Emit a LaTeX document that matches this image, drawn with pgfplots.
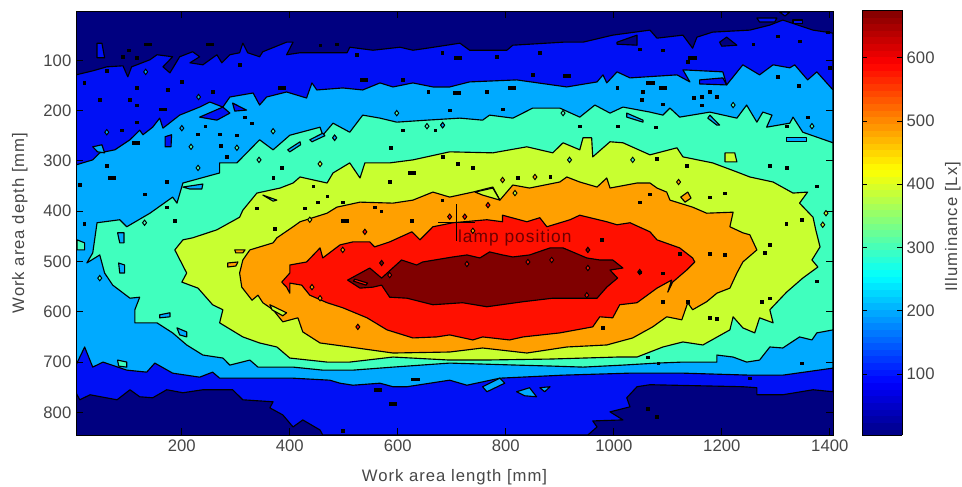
\documentclass[border=0pt]{standalone}
\usepackage{pgfplots}
\pgfplotsset{compat=1.18}
\usepackage{fontspec}
\setmainfont{Liberation Sans}
\definecolor{cnavy}{RGB}{0,0,128}
\definecolor{cblue}{RGB}{0,16,245}
\definecolor{csky}{RGB}{0,170,255}
\definecolor{cteal}{RGB}{64,255,190}
\definecolor{clime}{RGB}{200,255,48}
\definecolor{corange}{RGB}{255,160,0}
\definecolor{cred}{RGB}{255,16,0}
\definecolor{cdark}{RGB}{128,0,0}
\definecolor{txt}{RGB}{70,70,70}
\pgfplotsset{poly/.style={draw=black,line width=0.85pt,line join=round}}
\newcommand{\isl}[2]{\addplot[poly,fill=#1] coordinates {#2} -- cycle;}
\newcommand{\dia}[2]{\addplot[only marks,mark=diamond*,mark size=2pt,mark options={fill=#1,draw=black,line width=0.7pt}] coordinates {#2};}
\newfontfamily\lblfont[LetterSpace=6]{Liberation Sans}
\begin{document}
\begin{tikzpicture}
\useasboundingbox (0,0) rectangle (721.5pt,364.5pt);
\begin{axis}[
  at={(57pt,38.25pt)},anchor=south west,
  scale only axis,width=567.75pt,height=318pt,
  xmin=4,xmax=1406,ymin=2,ymax=845,y dir=reverse,
  xtick={200,400,...,1400},ytick={100,200,...,800},
  major tick length=5pt,tick style={black,line width=0.6pt},
  tick label style={font=\fontsize{12.5}{14}\selectfont,text=txt},
  /pgf/number format/assume math mode=true,
  /pgf/number format/1000 sep={},
  xlabel={Work area length [mm]},ylabel={Work area depth [mm]},
  label style={font=\lblfont\fontsize{12.5}{14}\selectfont,text=txt},
  xlabel style={yshift=-6.5pt},ylabel style={yshift=5pt},
  axis background/.style={fill=cnavy},
  axis on top,
  clip=true,
  colormap/jet,point meta min=3,point meta max=675,
  colorbar,colorbar sampled,
  colorbar style={samples=65,at={(1.0383,1.002)},anchor=north west,width=30pt,height=319pt,
    ytick={100,200,...,600},major tick length=4pt,
    ylabel={Illuminance [Lx]},
    /pgf/number format/assume math mode=true,
    tick label style={font=\fontsize{12.5}{14}\selectfont,text=txt},
    ylabel style={font=\lblfont\fontsize{12.5}{14}\selectfont,text=txt,xshift=-3pt,yshift=-1pt}},
]
% blue
\addplot[poly,fill=cblue] coordinates {(4,129)(35,121)(61,113)(91,111)(100,133)(107,113)(141,99)(154,89)(183,93)(165,113)(178,125)(196,93)(220,83)(233,93)(215,105)(239,109)(265,89)(274,105)(289,89)(307,85)(313,66)(322,85)(344,93)(350,83)(394,64)(406,64)(394,89)(419,85)(506,85)(511,74)(554,80)(604,74)(628,80)(654,76)(715,66)(733,80)(802,80)(813,70)(906,64)(943,64)(998,50)(1067,40)(1080,56)(1128,50)(1146,76)(1154,54)(1183,44)(1252,40)(1289,30)(1313,20)(1369,40)(1406,46)(1406,759)(1369,755)(1313,765)(1265,765)(1265,751)(1239,749)(1067,745)(1043,749)(1024,771)(1030,789)(993,799)(1017,815)(961,817)(969,829)(952,845)(461,845)(456,835)(424,815)(406,829)(387,805)(363,791)(369,779)(313,775)(294,755)(239,755)(202,761)(172,755)(146,771)(122,769)(104,755)(80,775)(30,765)(11,775)(4,761)} -- cycle;
\isl{cnavy}{(1006,64)(1043,50)(1043,70)(1006,68)}
\isl{cnavy}{(1196,64)(1209,54)(1228,70)(1200,72)}
\isl{cblue}{(43,66)(52,66)(57,95)(43,95)}
\isl{cblue}{(1265,16)(1302,16)(1298,24)(1270,24)}
\isl{cblue}{(1332,20)(1350,20)(1350,26)(1332,26)}
\isl{cblue}{(1307,4)(1326,4)(1317,12)}
% sky
\addplot[poly,fill=csky] coordinates {(4,308)(35,298)(48,284)(76,278)(104,258)(122,239)(128,248)(146,233)(159,215)(165,235)(196,209)(233,193)(252,183)(276,193)(289,173)(332,165)(344,189)(357,173)(394,163)(431,175)(441,145)(450,159)(498,155)(535,159)(567,145)(591,153)(628,145)(665,153)(696,153)(733,143)(820,139)(913,153)(969,143)(980,129)(987,145)(1006,123)(1030,135)(1117,129)(1141,143)(1128,119)(1202,123)(1209,149)(1239,109)(1270,129)(1295,109)(1326,115)(1335,109)(1359,139)(1376,123)(1406,159)(1406,712)(1313,726)(1252,726)(1128,722)(1030,722)(906,726)(789,732)(728,746)(696,736)(617,749)(591,749)(567,742)(517,746)(493,742)(474,736)(406,732)(270,732)(257,720)(233,730)(183,722)(150,702)(135,720)(98,716)(54,700)(35,710)(20,670)(4,706)} -- cycle;
\isl{cblue}{(233,213)(276,193)(289,205)(265,219)}
\isl{cblue}{(294,185)(320,199)(298,201)}
\isl{cblue}{(169,252)(181,248)(180,272)(169,272)}
\isl{cblue}{(1159,139)(1202,135)(1209,149)(1159,147)}
\isl{csky}{(757,749)(789,732)(798,742)(765,759)}
\isl{csky}{(820,759)(844,751)(857,769)(835,767)}
\isl{csky}{(863,751)(882,749)(872,759)}
\isl{csky}{(35,272)(52,268)(57,284)(44,282)}
\dia{csky}{(231,173)(61,243)(200,235)(133,123)}
% teal
\addplot[poly,fill=cteal] coordinates {(24,503)(35,483)(43,423)(85,417)(98,431)(141,404)(183,372)(191,384)(202,344)(270,324)(270,304)(302,304)(344,258)(369,278)(400,249)(456,233)(461,249)(480,225)(511,243)(535,209)(567,215)(598,223)(654,219)(715,215)(757,219)(770,209)(813,215)(850,195)(900,195)(937,213)(965,189)(993,205)(1017,193)(1067,203)(1091,209)(1104,195)(1122,213)(1178,203)(1228,215)(1246,189)(1265,223)(1276,203)(1293,209)(1283,233)(1326,225)(1332,213)(1350,243)(1406,264)(1406,636)(1376,642)(1367,656)(1344,650)(1313,672)(1289,670)(1270,696)(1246,700)(1221,690)(1191,686)(1191,700)(1128,700)(1080,702)(1017,706)(943,710)(887,708)(820,706)(696,702)(591,710)(517,716)(461,716)(406,710)(341,710)(326,696)(289,706)(276,692)(239,686)(209,666)(183,642)(154,622)(113,622)(113,596)(122,571)(104,573)(72,547)(57,523)(48,487)} -- cycle;
\isl{csky}{(396,278)(419,262)(420,268)(400,282)}
\isl{csky}{(437,258)(461,245)(465,250)(441,262)}
\isl{csky}{(202,352)(239,346)(237,356)(215,356)}
\isl{csky}{(1320,254)(1357,254)(1357,262)(1320,262)}
\isl{csky}{(1024,205)(1054,219)(1054,223)(1024,213)}
\isl{csky}{(1178,209)(1196,229)(1191,229)(1174,215)}
\isl{csky}{(81,443)(93,443)(93,463)(85,463)}
\isl{csky}{(83,503)(94,507)(94,523)(85,523)}
\isl{csky}{(159,606)(178,602)(178,610)(159,612)}
\isl{csky}{(191,632)(209,640)(209,650)(196,646)}
\isl{cteal}{(81,696)(98,700)(98,710)(83,708)}
\isl{cteal}{(6,457)(20,463)(20,477)(6,477)}
\dia{cteal}{(369,241)(343,298)(302,274)(230,314)(217,272)(131,423)(483,254)(598,205)(654,231)(683,229)(48,533)(1221,189)(906,205)(1367,231)}
\dia{csky}{(483,254)(683,229)}
% lime
\addplot[poly,fill=clime] coordinates {(187,477)(202,457)(220,453)(265,437)(307,412)(313,398)(339,364)(382,354)(406,344)(419,332)(469,344)(480,324)(511,304)(530,334)(539,304)(585,304)(628,298)(696,282)(776,284)(839,272)(887,284)(906,264)(937,278)(943,254)(959,254)(961,292)(993,262)(1017,264)(1067,288)(1117,274)(1128,292)(1183,304)(1228,322)(1252,332)(1295,342)(1332,364)(1359,362)(1344,384)(1369,412)(1374,437)(1382,471)(1367,497)(1378,511)(1350,533)(1320,561)(1289,596)(1295,622)(1270,612)(1261,642)(1239,632)(1221,610)(1215,636)(1165,666)(1128,660)(1091,670)(1043,690)(1006,690)(882,694)(757,696)(696,696)(591,690)(511,700)(469,700)(400,692)(376,670)(344,662)(313,650)(270,622)(276,596)(257,586)(230,553)(200,541)(209,523)} -- cycle;
\isl{clime}{(1206,284)(1224,284)(1228,302)(1206,302)}
\isl{cteal}{(350,368)(376,378)(369,380)}
\dia{clime}{(456,306)(1387,427)(1393,404)}
\dia{cteal}{(1035,298)(918,298)}
% orange
\addplot[poly,fill=corange] coordinates {(307,523)(313,497)(326,477)(369,463)(376,453)(406,431)(419,421)(469,404)(487,392)(530,382)(591,384)(628,378)(665,362)(696,372)(739,362)(776,352)(789,378)(813,348)(844,354)(900,342)(913,332)(937,342)(969,352)(987,334)(993,354)(1043,344)(1067,344)(1080,354)(1098,362)(1104,378)(1146,392)(1172,404)(1221,402)(1215,431)(1239,443)(1252,447)(1265,477)(1239,501)(1228,523)(1215,553)(1191,563)(1172,580)(1146,596)(1137,582)(1126,616)(1098,610)(1072,630)(1035,652)(987,666)(913,670)(839,682)(757,672)(696,680)(591,682)(511,670)(456,662)(424,640)(415,612)(387,620)(369,596)(350,582)(341,567)(330,577)(311,551)} -- cycle;
\isl{corange}{(1124,372)(1137,362)(1143,374)(1132,382)}
\isl{corange}{(285,503)(304,501)(300,509)(285,511)}
\isl{corange}{(298,477)(317,477)(313,483)(300,483)}
\isl{clime}{(743,362)(776,354)(789,378)(757,368)}
\isl{clime}{(363,586)(394,602)(387,608)(367,596)}
\dia{clime}{(817,364)(437,417)}
\dia{corange}{(794,338)(854,332)(1120,342)}
% red
\addplot[poly,fill=cred] coordinates {(385,541)(400,523)(400,507)(431,501)(456,473)(461,493)(493,467)(517,461)(548,461)(557,471)(585,461)(626,441)(641,457)(665,431)(702,423)(765,417)(794,421)(794,408)(839,421)(863,413)(876,431)(919,417)(937,408)(987,421)(1006,427)(1030,423)(1067,441)(1080,457)(1122,473)(1146,493)(1150,501)(1135,517)(1109,541)(1100,561)(1107,537)(1080,553)(1043,582)(1011,586)(998,612)(974,610)(961,630)(900,642)(832,650)(807,656)(757,650)(739,656)(696,646)(672,650)(628,652)(580,636)(543,612)(498,592)(469,582)(437,567)(422,547)(400,543)(400,563)(394,551)} -- cycle;
\dia{cred}{(696,411)(724,411)(767,388)(526,630)(539,441)}
\dia{corange}{(498,477)(441,551)(456,573)(739,439)}
% dark
\addplot[poly,fill=cdark] coordinates {(507,537)(548,513)(570,533)(607,497)(635,507)(646,501)(702,491)(728,487)(752,493)(770,481)(794,487)(813,491)(844,487)(882,473)(906,473)(950,493)(974,497)(998,497)(1017,513)(993,517)(1007,533)(987,551)(969,573)(887,573)(832,580)(765,590)(720,582)(665,586)(617,573)(585,571)(570,547)(554,551)(530,553)} -- cycle;
\isl{cred}{(520,535)(544,543)(541,547)(518,539)}
\dia{cdark}{(952,477)(1048,521)(570,503)}
\dia{cred}{(585,527)(728,505)(885,497)(952,513)(950,567)(841,501)}
% black specks
\addplot[only marks,mark=square*,mark size=0.95pt,black] coordinates {(102,80)(456,70)(487,68)(524,89)(682,85)(117,95)(91,93)(61,121)(19,145)(48,179)(104,179)(117,155)(174,159)(200,143)(257,163)(307,109)(609,139)(656,163)(696,199)(117,189)(89,239)(117,223)(243,231)(230,247)(270,247)(272,270)(302,249)(330,225)(317,213)(283,292)(61,310)(11,348)(131,366)(172,342)(385,314)(369,334)(443,350)(585,342)(587,274)(683,292)(609,239)(669,239)(172,392)(187,419)(339,394)(452,382)(498,382)(469,370)(428,394)(372,435)(569,400)(626,419)(682,378)(557,392)(19,425)(498,837)(1063,793)(1080,809)(978,457)(1122,485)(1178,485)(1206,487)(1091,523)(1048,521)(1091,580)(1137,580)(1178,612)(1191,614)(980,632)(1289,467)(1280,483)(1376,539)(1289,573)(1274,580)(1063,690)(1082,702)(1348,702)(1252,732)(711,306)(739,314)(822,334)(882,332)(1080,296)(1135,310)(1206,364)(1178,372)(1067,366)(1048,382)(1289,310)(1320,314)(1376,350)(1320,231)(1348,417)(1319,425)(1078,233)(1007,231)(937,231)(1091,80)(1048,78)(1258,68)(1344,62)(1304,52)(1396,44)(1400,115)(1137,103)(863,85)(783,93)(850,129)(765,163)(1054,163)(1006,155)(1052,179)(1191,173)(1163,173)(1148,175)(1178,163)(1304,133)(1343,151)(794,197)(1091,187)(1163,189)(1359,213)};
\addplot[only marks,mark=square*,mark size=0.95pt,mark options={xscale=3},black] coordinates {(137,68)(252,68)(385,155)(537,139)(165,197)(115,264)(70,334)(626,324)(502,419)(591,783)(632,734)(563,755)(1145,95)(711,95)(913,131)(811,155)(709,165)(1067,145)(1091,155)};
% lamp
\addplot[only marks,mark=+,mark size=14pt,mark options={line width=0.9pt},black] coordinates {(709,423)};
\node[text=cdark!85!black,font=\lblfont\fontsize{13}{15}\selectfont,anchor=west,inner sep=0pt] at (axis cs:711,454) {lamp position};
\end{axis}
\end{tikzpicture}
\end{document}
